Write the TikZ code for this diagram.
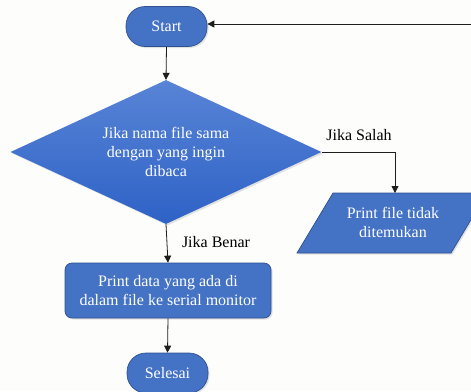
\documentclass[tikz,border=0pt]{standalone}
\usepackage{fontspec}
\setmainfont{Liberation Serif}
\usetikzlibrary{shapes.geometric,arrows.meta,shadows}
\definecolor{bg}{RGB}{253,253,251}
\definecolor{boxfill}{RGB}{68,114,196}
\definecolor{boxline}{RGB}{47,82,143}
\definecolor{diatop}{RGB}{88,132,214}
\definecolor{diabot}{RGB}{46,98,198}
\definecolor{lnc}{RGB}{30,30,30}
\tikzset{
  shade/.style={drop shadow={opacity=0.22,shadow xshift=1.5pt,shadow yshift=-1.5pt}},
  term/.style={draw=boxline,fill=boxfill,line width=0.7pt,rounded corners=19pt,
    minimum width=81pt,minimum height=40pt,text=white,font=\fontsize{16}{19}\selectfont,shade},
  proc/.style={draw=boxline,fill=boxfill,line width=0.7pt,rounded corners=7pt,
    minimum width=206pt,minimum height=55pt,text=white,align=center,
    font=\fontsize{16}{19}\selectfont,shade},
  dec/.style={diamond,aspect=2.14,minimum width=311pt,minimum height=144pt,inner sep=0pt,
    top color=diatop,bottom color=diabot,draw=none,text=white,align=center,
    font=\fontsize{16}{19}\selectfont,shade},
  io/.style={draw=boxline,fill=boxfill,line width=0.7pt,shade},
  iotext/.style={text=white,align=center,font=\fontsize{16}{19}\selectfont},
  lbl/.style={text=black,font=\fontsize{16}{19}\selectfont},
  conn/.style={draw=lnc,line width=0.8pt},
  arr/.style={conn,-{Triangle[length=7pt,width=7pt]}}
}
\begin{document}
\begin{tikzpicture}[x=1pt,y=-1pt]
\fill[bg] (0,0) rectangle (471,391);
\useasboundingbox (0,0) rectangle (471,391);
\clip (0,0) rectangle (471,391);
\node[term] (st) at (166.5,26.5) {Start};
\node[dec] (d) at (166,152) {Jika nama file sama\\dengan yang ingin\\dibaca};
\node[proc] (p) at (168,290.5) {Print data yang ada di\\dalam file ke serial monitor};
\node[term] (sel) at (167.5,373) {Selesai};
\path[io] (333,193) -- (487,193) -- (451,253) -- (297,253) -- cycle;
\node[iotext] (pt) at (393,222) {Print file tidak\\ditemukan};
\coordinate (pin) at (395,193);
\coordinate (fb) at (471,24);
\draw[arr] (st.south) -- (d.north);
\draw[arr] (d.south) -- (p.north);
\draw[arr] (p.south) -- (sel.north);
\draw[arr] (d.east) -| (pin);
\draw[arr] (fb) -- (fb -| st.east);
\node[lbl] (ls) at (359,135) {Jika Salah};
\node[lbl] (lb) at (216,242) {Jika Benar};
\end{tikzpicture}
\end{document}
